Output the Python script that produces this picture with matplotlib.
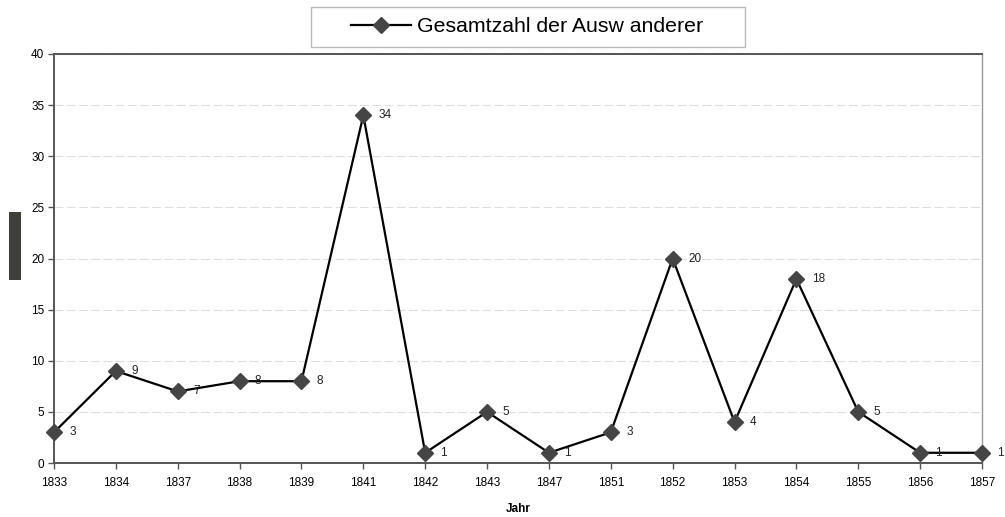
import matplotlib
matplotlib.use("Agg")
import matplotlib.pyplot as plt
from matplotlib.patches import Rectangle

years = ["1833", "1834", "1837", "1838", "1839", "1841", "1842", "1843",
         "1847", "1851", "1852", "1853", "1854", "1855", "1856", "1857"]
values = [3, 9, 7, 8, 8, 34, 1, 5, 1, 3, 20, 4, 18, 5, 1, 1]
series_name = "Gesamtzahl der Ausw anderer"
yticks = [0, 5, 10, 15, 20, 25, 30, 35, 40]

plt.rcParams['font.family'] = ['Liberation Sans', 'DejaVu Sans']

W, H = 1005, 517
fig = plt.figure(figsize=(W / 100, H / 100), dpi=100)
L, R, T, B = 54, 982, 54, 463
ax = fig.add_axes([L / W, 1 - B / H, (R - L) / W, (B - T) / H])

x = list(range(len(years)))
line, = ax.plot(x, values, color='black', lw=1.6, marker='D', markersize=8.5,
                markerfacecolor='#454545', markeredgecolor='#454545',
                label=series_name, zorder=3, clip_on=False)

for xi, v in zip(x, values):
    ax.annotate(str(v), (xi, v), xytext=(11, 0), textcoords='offset points',
                va='center', ha='left', fontsize=8.5, color='#222222')

ax.set_xlim(0, len(years) - 1)
ax.set_ylim(0, 40)
ax.set_xticks(x)
ax.set_xticklabels(years, fontsize=8.5)
ax.set_yticks(yticks)
ax.set_yticklabels([str(t) for t in yticks], fontsize=8.5)
ax.tick_params(axis='x', direction='out', length=4, width=1, color='#555555', pad=6)
ax.tick_params(axis='y', direction='out', length=4, width=1, color='#555555', pad=3)
ax.yaxis.grid(True, color='#dedede', linestyle=(0, (8, 3)), lw=0.8)
ax.set_axisbelow(True)
for s in ['left', 'bottom', 'top']:
    ax.spines[s].set_color('#555555')
    ax.spines[s].set_linewidth(1.4)
ax.spines['right'].set_color('#999999')
ax.spines['right'].set_linewidth(1.0)
ax.set_xlabel('Jahr', fontsize=8.5, fontweight='bold', labelpad=10)

# legend box
fig.add_artist(Rectangle((311 / W, 1 - 47 / H), (745 - 311) / W, 40 / H,
                         transform=fig.transFigure, facecolor='white',
                         edgecolor='#bbbbbb', lw=1.0))
fig.legend(handles=[line], loc='center', bbox_to_anchor=(527 / W, 1 - 27 / H),
           frameon=False, fontsize=15.3, handlelength=2.8, handletextpad=0.3,
           markerscale=1.0)

# dark block at left (redacted axis title)
fig.add_artist(Rectangle((9 / W, 1 - 280 / H), 12 / W, 68 / H,
                         transform=fig.transFigure, facecolor='#3f3f3c',
                         edgecolor='none'))

fig.savefig('out.png', dpi=100)
